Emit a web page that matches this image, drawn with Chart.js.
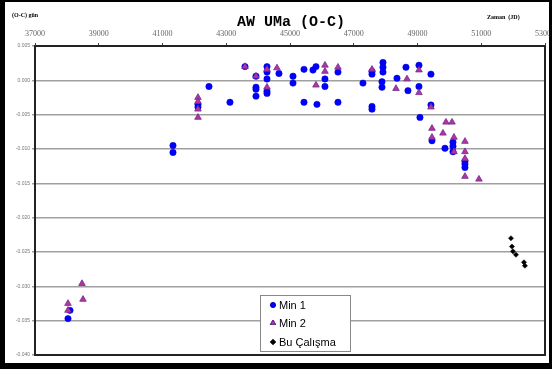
<!DOCTYPE html>
<html>
<head>
<meta charset="utf-8">
<script src="https://cdn.jsdelivr.net/npm/chart.js@4.4.1/dist/chart.umd.min.js"></script>
<style>
  html, body { margin: 0; padding: 0; background: #fff; }
  #wrap { width: 552px; height: 369px; position: relative; }
</style>
</head>
<body>
<div id="wrap"><canvas id="oc-chart" width="552" height="369"></canvas></div>
<script>
// AW UMa O-C diyagramı
const seriesNames = ['Min 1', 'Min 2', 'Bu Çalışma'];

const min1JD = [38098, 38035, 41329, 41329, 42113, 42113, 42458, 43117, 43588,
  43933, 43933, 43933, 43933, 44278, 44278, 44278, 44278, 44278, 44654, 45094, 45094,
  45439, 45439, 45721, 45815, 45846, 46097, 46097, 46505, 46505, 47289, 47572, 47572,
  47572, 47572, 47917, 47917, 47917, 47886, 47886, 48356, 48638, 48701, 49046, 49046,
  49077, 49422, 49422, 49454, 49862, 50113, 50113, 50113, 50489, 50489, 50489];
const min1OC = [-0.0335, -0.0347, -0.0095, -0.0105, -0.0035, -0.0039, -0.0009, -0.0032, 0.0020,
  0.0006, -0.0010, -0.0013, -0.0023, 0.0020, 0.0012, 0.0002, -0.0016, -0.0019, 0.0010, 0.0006, -0.0004,
  0.0016, -0.0032, 0.0015, 0.0020, -0.0035, 0.0002, -0.0009, 0.0012, -0.0032, -0.0004, 0.0013, 0.0009,
  -0.0038, -0.0042, 0.0026, 0.0019, 0.0012, -0.0002, -0.0010, 0.0003, 0.0019, -0.0015, 0.0022, -0.0009,
  -0.0054, 0.0009, -0.0036, -0.0088, -0.0099, -0.0090, -0.0096, -0.0104, -0.0118, -0.0122, -0.0127];

const min2JD = [38474, 38506, 38035, 38035, 42113, 42113, 42113, 42113, 43588, 43933,
  44278, 44278, 44591, 45815, 46097, 46097, 46505, 47572, 48325, 48670, 49046, 49046,
  49422, 49454, 49454, 49799, 49893, 50082, 50144, 50144, 50489, 50489, 50489, 50489, 50928];
const min2OC = [-0.0296, -0.0319, -0.0325, -0.0335, -0.0025, -0.0031, -0.0042, -0.0054, 0.0020, 0.0006,
  0.0016, -0.0010, 0.0018, -0.0007, 0.0022, 0.0013, 0.0019, 0.0016, -0.0012, 0.0002, 0.0015, -0.0018,
  -0.0039, -0.0070, -0.0083, -0.0077, -0.0061, -0.0061, -0.0083, -0.0104, -0.0089, -0.0104, -0.0114, -0.0140, -0.0144];

const buJD = [51932, 51963, 51995, 52089, 52340, 52371];
const buOC = [-0.0230, -0.0242, -0.0249, -0.0254, -0.0265, -0.0270];

const xMin = 37000, xMax = 53000, xStep = 2000;
const yMin = -0.040, yMax = 0.005, yStep = 0.005;

function toPoints(xs, ys) {
  const pts = [];
  for (let i = 0; i < xs.length; i++) {
    pts.push({ x: xs[i], y: ys[i] });
  }
  return pts;
}

// cerceve, baslik, eksen yazilari ve lejant
const decorPlugin = {
  id: 'decor',
  afterDraw(chart) {
    const c = chart.ctx;
    const a = chart.chartArea;
    c.save();
    // grafik kutusu
    c.strokeStyle = '#222';
    c.lineWidth = 2;
    c.strokeRect(a.left, a.top, a.right - a.left, a.bottom - a.top);

    // baslik
    c.fillStyle = '#000';
    c.textAlign = 'center';
    c.textBaseline = 'middle';
    c.font = 'bold 15px "Liberation Mono", "Courier New", monospace';
    c.fillText('AW UMa (O-C)', 291, 22);

    c.font = 'bold 6px "Liberation Serif", serif';
    c.textAlign = 'left';
    c.fillText('(O-C) gün', 12, 15);
    c.fillText('Zaman  (JD)', 487, 17);

    // lejant
    const bx = 260, by = 295, bw = 90, bh = 56;
    c.fillStyle = '#fff';
    c.fillRect(bx, by, bw, bh);
    c.strokeStyle = '#888';
    c.lineWidth = 1;
    c.strokeRect(bx + 0.5, by + 0.5, bw, bh);
    const rows = [305, 323, 342];
    chart.data.datasets.forEach((ds, i) => {
      Chart.helpers.drawPoint(c, {
        pointStyle: ds.pointStyle,
        radius: ds.pointStyle === 'triangle' ? 3 : 2.5,
        borderWidth: 1
      }, 273, rows[i]);
      c.fillStyle = ds.backgroundColor;
      c.strokeStyle = ds.borderColor;
      c.fill();
      c.stroke();
      c.fillStyle = '#000';
      c.font = '11px "Liberation Sans", Arial, sans-serif';
      c.textAlign = 'left';
      c.textBaseline = 'middle';
      c.fillText(ds.label, 279, rows[i] + 1);
    });

    // dis siyah cerceve
    c.fillStyle = '#000';
    c.fillRect(0, 0, 552, 2);
    c.fillRect(0, 0, 5, 369);
    c.fillRect(549, 0, 3, 369);
    c.fillRect(0, 363, 552, 6);
    c.restore();
  }
};

const ctx = document.getElementById('oc-chart');

new Chart(ctx, {
  type: 'scatter',
  data: {
    datasets: [
      {
        label: seriesNames[0],
        data: toPoints(min1JD, min1OC),
        order: 2,
        pointStyle: 'circle',
        pointRadius: 3.2,
        backgroundColor: '#0000ff',
        borderColor: '#0000cc',
        borderWidth: 0.5
      },
      {
        label: seriesNames[1],
        data: toPoints(min2JD, min2OC),
        order: 1,
        pointStyle: 'triangle',
        pointRadius: 3.8,
        backgroundColor: '#b8329e',
        borderColor: '#6c2c94',
        borderWidth: 0.8
      },
      {
        label: seriesNames[2],
        data: toPoints(buJD, buOC),
        order: 0,
        pointStyle: 'rectRot',
        pointRadius: 2.6,
        backgroundColor: '#000',
        borderColor: '#000',
        borderWidth: 0.5
      }
    ]
  },
  options: {
    responsive: false,
    animation: false,
    layout: { padding: { top: 0, left: 0, right: 7, bottom: 14 } },
    plugins: {
      legend: { display: false },
      tooltip: { enabled: false }
    },
    scales: {
      x: {
        type: 'linear',
        position: 'top',
        min: xMin,
        max: xMax,
        afterFit: function(scale) {
          scale.height = 46;
          scale.paddingLeft = 0;
          scale.paddingRight = 0;
        },
        ticks: {
          stepSize: xStep,
          color: '#666',
          padding: 4,
          maxRotation: 0,
          font: { family: 'Liberation Serif', size: 8 },
          callback: function(value) { return String(value); }
        },
        grid: { drawOnChartArea: false, drawTicks: true, tickLength: 3, color: '#444' },
        border: { display: false }
      },
      y: {
        min: yMin,
        max: yMax,
        afterFit: function(scale) {
          scale.width = 35;
          scale.paddingTop = 0;
          scale.paddingBottom = 0;
        },
        ticks: {
          stepSize: yStep,
          color: '#777',
          padding: 2,
          font: { family: 'Liberation Sans', size: 5 },
          callback: function(value) {
            if (Math.abs(value) < 1e-9) return '0.000';
            return value.toFixed(3);
          }
        },
        grid: { color: '#a0a0a0', lineWidth: 1.5, tickLength: 3, drawTicks: true },
        border: { display: false }
      }
    }
  },
  plugins: [decorPlugin]
});
</script>
</body>
</html>
